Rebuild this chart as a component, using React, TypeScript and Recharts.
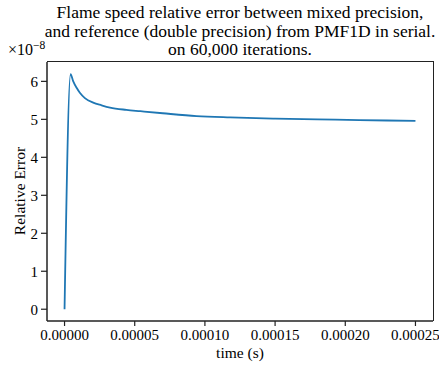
import React from "react";
import { LineChart, Line, XAxis, YAxis } from "recharts";

const timeSeconds = [
  0, 0.0000043, 0.0000062, 0.0000086, 0.0000109, 0.0000145, 0.0000204,
  0.0000264, 0.0000324, 0.000044, 0.000054, 0.00007, 0.000094, 0.000118,
  0.00015, 0.00018, 0.00021, 0.00025,
];
const relativeErrorE8 = [
  0, 6.19, 6.0, 5.83, 5.7, 5.56, 5.44, 5.37, 5.31, 5.25, 5.215, 5.16, 5.085,
  5.05, 5.02, 5.0, 4.98, 4.96,
];
const xTicks = [0, 0.00005, 0.0001, 0.00015, 0.0002, 0.00025];
const yTicks = [0, 1, 2, 3, 4, 5, 6];
const xDomain = [-0.0000125, 0.0002625];
const yDomain = [-0.31, 6.51];
const titleLines = [
  "Flame speed relative error between mixed precision,",
  "and reference (double precision) from PMF1D in serial.",
  "on 60,000 iterations.",
];
const xLabel = "time (s)";
const yLabel = "Relative Error";

const data = timeSeconds.map((t, i) => ({ t, v: relativeErrorE8[i] }));

const FONT = '"Liberation Serif", "DejaVu Serif", serif';
const tickStyle = { fontFamily: FONT, fontSize: 15, fill: "#000" };
const SPINE = "#222";

const W = 439;
const H = 366;
const M = { top: 62, right: 6, bottom: 0, left: 0 };
const Y_AXIS_W = 47;
const X_AXIS_H = 45;

export default function App() {
  return (
    <div
      style={{
        position: "absolute",
        left: 0,
        top: 0,
        width: W,
        height: H,
        background: "#fff",
        fontFamily: FONT,
        color: "#000",
        overflow: "hidden",
      }}
    >
      <LineChart width={W} height={H} data={data} margin={M}>
        <XAxis
          dataKey="t"
          type="number"
          domain={xDomain}
          ticks={xTicks}
          allowDataOverflow
          tickFormatter={(v: number) => v.toFixed(5)}
          tick={tickStyle}
          tickSize={5}
          tickMargin={3}
          height={X_AXIS_H}
          axisLine={{ stroke: SPINE, strokeWidth: 1.5 }}
          tickLine={{ stroke: SPINE, strokeWidth: 1.2 }}
          interval={0}
        />
        <YAxis
          type="number"
          domain={yDomain}
          ticks={yTicks}
          allowDataOverflow
          tick={tickStyle}
          tickSize={6}
          tickMargin={3}
          width={Y_AXIS_W}
          axisLine={{ stroke: SPINE, strokeWidth: 1.5 }}
          tickLine={{ stroke: SPINE, strokeWidth: 1.2 }}
          interval={0}
        />
        <Line
          dataKey="v"
          type="monotone"
          stroke="#1f77b4"
          strokeWidth={1.8}
          dot={false}
          isAnimationActive={false}
        />
      </LineChart>
      {/* top and right spines of the axes box */}
      <div
        style={{
          position: "absolute",
          left: M.left + Y_AXIS_W,
          top: M.top - 1,
          width: W - M.right - M.left - Y_AXIS_W + 1,
          height: H - M.top - M.bottom - X_AXIS_H + 1,
          borderTop: `1.5px solid ${SPINE}`,
          borderRight: `1.5px solid ${SPINE}`,
          boxSizing: "border-box",
          pointerEvents: "none",
        }}
      />
      {titleLines.map((line, i) => (
        <div
          key={i}
          style={{
            position: "absolute",
            left: -60,
            width: 600,
            top: 3 + i * 18.5,
            lineHeight: "19px",
            fontSize: 17.5,
            fontFamily: FONT,
            textAlign: "center",
            whiteSpace: "nowrap",
          }}
        >
          {line}
        </div>
      ))}
      <div
        style={{
          position: "absolute",
          left: 8,
          top: 41,
          fontSize: 16,
          fontFamily: FONT,
          lineHeight: "18px",
          whiteSpace: "nowrap",
        }}
      >
        ×10
        <span style={{ fontSize: 11.5, position: "relative", top: -6 }}>−8</span>
      </div>
      <div
        style={{
          position: "absolute",
          left: 240 - 100,
          width: 200,
          top: 343,
          lineHeight: "20px",
          fontSize: 15.5,
          fontFamily: FONT,
          textAlign: "center",
        }}
      >
        {xLabel}
      </div>
      <div
        style={{
          position: "absolute",
          left: 20 - 100,
          top: 191 - 10,
          width: 200,
          lineHeight: "20px",
          fontSize: 15.5,
          fontFamily: FONT,
          textAlign: "center",
          transform: "rotate(-90deg)",
          whiteSpace: "nowrap",
        }}
      >
        {yLabel}
      </div>
    </div>
  );
}
